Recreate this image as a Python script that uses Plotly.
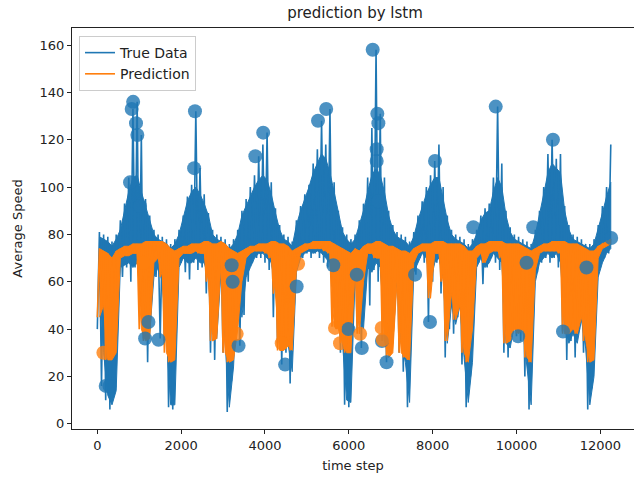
import plotly.graph_objects as go

# bin start positions (time step), 100 apart
bin_x = list(range(0, 12300, 100))
x_ticks = [0, 2000, 4000, 6000, 8000, 10000, 12000]
x_tick_labels = ["0", "2000", "4000", "6000", "8000", "10000", "12000"]
y_ticks = [0, 20, 40, 60, 80, 100, 120, 140, 160]

# True data: extremes per bin (spikes)
true_hi = [81, 80, 79, 77, 80, 86, 93, 104, 133, 136, 122, 95, 88, 82, 80, 79, 78, 76, 78, 82,
           88, 96, 101, 132, 108, 97, 89, 82, 80, 79, 78, 76, 78, 82, 90, 95, 100, 105, 113, 118,
           123, 102, 91, 84, 80, 79, 77, 86, 92, 97, 101, 110, 116, 128, 118, 133, 102, 90, 83, 80,
           78, 80, 86, 93, 104, 125, 158, 131, 104, 90, 84, 81, 80, 79, 77, 81, 88, 94, 100, 105,
           111, 118, 100, 88, 82, 80, 79, 78, 76, 78, 82, 88, 91, 93, 104, 134, 110, 90, 83, 80,
           79, 78, 77, 76, 82, 90, 100, 114, 120, 112, 114, 92, 84, 80, 79, 78, 76, 76, 78, 84,
           92, 100, 118]
true_lo = [40, 16, 10, 6, 12, 60, 62, 66, 60, 66, 50, 36, 26, 55, 62, 36, 35, 7, 6, 60,
           68, 64, 61, 68, 65, 66, 55, 30, 27, 58, 30, 5, 18, 55, 33, 46, 60, 68, 70, 70,
           68, 65, 45, 34, 25, 30, 17, 57, 68, 70, 72, 70, 72, 70, 68, 66, 58, 40, 30, 8,
           7, 55, 40, 32, 60, 50, 65, 60, 35, 26, 40, 55, 30, 22, 7, 58, 63, 70, 68, 43,
           60, 68, 55, 28, 40, 38, 45, 25, 7, 20, 62, 68, 59, 66, 70, 68, 65, 30, 28, 40,
           37, 35, 20, 6, 50, 64, 68, 70, 68, 70, 66, 39, 27, 35, 28, 40, 30, 6, 15, 55,
           66, 70, 72]
# True data: dense body per bin
true_band_hi = [79, 78, 77, 75, 78, 82, 90, 98, 104, 105, 98, 92, 86, 80, 78, 77, 76, 74, 76, 80,
                87, 94, 98, 100, 97, 93, 88, 80, 78, 77, 76, 74, 76, 80, 88, 92, 96, 100, 103, 105,
                103, 97, 89, 82, 78, 77, 75, 84, 90, 95, 100, 106, 110, 114, 112, 106, 98, 89, 81, 78,
                76, 78, 84, 90, 98, 105, 108, 105, 98, 88, 82, 79, 78, 77, 75, 79, 86, 92, 97, 101,
                104, 104, 95, 86, 80, 78, 77, 76, 74, 76, 80, 86, 89, 90, 98, 104, 100, 88, 81, 78,
                77, 76, 75, 74, 80, 88, 97, 106, 110, 108, 106, 90, 82, 78, 77, 76, 75, 74, 76, 82,
                89, 96, 102]
true_band_lo = [60, 30, 12, 8, 14, 66, 67, 68, 66, 68, 55, 40, 38, 62, 66, 60, 36, 8, 8, 66,
                70, 68, 68, 70, 68, 68, 62, 38, 36, 64, 34, 7, 24, 60, 45, 62, 66, 70, 72, 72,
                70, 68, 58, 36, 32, 34, 22, 64, 70, 72, 73, 72, 73, 72, 70, 68, 50, 44, 34, 10,
                9, 62, 44, 40, 66, 64, 68, 66, 40, 30, 34, 62, 34, 26, 9, 64, 68, 72, 70, 60,
                68, 70, 62, 34, 50, 42, 50, 28, 9, 26, 66, 70, 66, 68, 72, 70, 68, 34, 32, 42,
                40, 40, 24, 8, 60, 68, 70, 72, 70, 72, 68, 42, 34, 38, 34, 44, 32, 8, 20, 62,
                68, 72, 74]

# Prediction envelope per bin
pred_hi = [74, 73, 72, 70, 73, 74, 75, 75, 76, 76, 76, 77, 77, 77, 77, 77, 76, 74, 73, 74,
           75, 75, 76, 76, 76, 77, 77, 76, 76, 77, 76, 74, 73, 72, 73, 74, 75, 75, 76, 76,
           76, 77, 77, 76, 76, 75, 73, 74, 75, 76, 76, 77, 77, 77, 77, 77, 76, 75, 74, 73,
           72, 74, 73, 75, 76, 76, 77, 77, 76, 75, 75, 74, 73, 73, 72, 74, 75, 76, 76, 76,
           77, 77, 77, 76, 76, 76, 76, 75, 73, 73, 75, 76, 76, 77, 77, 77, 77, 76, 76, 76,
           76, 75, 74, 73, 74, 75, 76, 76, 77, 77, 77, 77, 76, 76, 76, 75, 74, 73, 73, 75,
           76, 77, 78]
pred_lo = [45, 50, 27, 27, 30, 70, 71, 71, 72, 72, 40, 35, 36, 68, 70, 62, 30, 26, 27, 70,
           72, 72, 72, 73, 72, 72, 60, 35, 36, 68, 30, 26, 27, 40, 60, 70, 72, 73, 73, 73,
           72, 70, 55, 31, 31, 33, 31, 65, 72, 73, 74, 74, 74, 74, 73, 72, 41, 40, 34, 30,
           30, 65, 38, 60, 72, 72, 70, 70, 35, 28, 30, 60, 30, 28, 27, 68, 72, 73, 73, 53,
           72, 72, 60, 35, 55, 44, 50, 30, 26, 40, 70, 72, 68, 72, 73, 73, 70, 34, 35, 40,
           38, 40, 28, 26, 65, 72, 73, 73, 73, 73, 72, 38, 38, 40, 38, 45, 35, 26, 27, 70,
           74, 75, 76]

# highlighted points (circles)
true_pts_x = [200, 290, 780, 820, 855, 923, 955, 1020, 1140, 1220, 1460, 2310, 2330, 3205, 3230,
              3370, 3770, 3957, 4480, 4756, 5265, 5460, 5630, 5990, 6190, 6310, 6570, 6665, 6665,
              6680, 6705, 6705, 6790, 6900, 7580, 7937, 8057, 8970, 9505, 10040, 10240, 10400,
              10870, 11110, 11670, 12260]
true_pts_y = [16, 16, 102, 133, 136, 127, 122, 92, 36, 43, 35.5, 108, 132, 67, 60,
              33, 113, 123, 25, 58, 128, 133, 67, 40, 63, 32, 158, 116, 111,
              131, 127, 94, 35, 26, 63, 43, 111, 83, 134, 37, 68, 83,
              120, 39, 66, 78.5]
pred_pts_x = [145, 1100, 3325, 4400, 4790, 5670, 5790, 6190, 6270, 6785, 6810]
pred_pts_y = [30, 68, 38, 34, 67.6, 40.5, 34, 70, 38, 40.5, 35.5]

END_X = 12280
BLUE = "#1f77b4"
ORANGE = "#ff7f0e"
FONT = "DejaVu Sans"


def zigzag(xs, lo, hi):
    px, py = [], []
    for x, a, b in zip(xs, lo, hi):
        px += [x, min(x + 50, END_X)]
        py += [a, b]
    return px, py


def band(xs, lo, hi):
    xe = [min(x + 50, END_X) for x in xs]
    return xe + xe[::-1], list(hi) + list(lo)[::-1]


fig = go.Figure()
bx, by = band(bin_x, true_band_lo, true_band_hi)
fig.add_trace(go.Scatter(x=bx, y=by, mode="lines", fill="toself", fillcolor=BLUE,
                         line=dict(color=BLUE, width=1), showlegend=False, hoverinfo="skip"))
tx, ty = zigzag(bin_x, true_lo, true_hi)
fig.add_trace(go.Scatter(x=tx, y=ty, mode="lines", name="True Data",
                         line=dict(color=BLUE, width=1.6, simplify=False)))
ox, oy = band(bin_x, pred_lo, pred_hi)
fig.add_trace(go.Scatter(x=ox, y=oy, mode="lines", fill="toself", fillcolor=ORANGE,
                         line=dict(color=ORANGE, width=1), showlegend=False, hoverinfo="skip"))
px_, py_ = zigzag(bin_x, pred_lo, pred_hi)
fig.add_trace(go.Scatter(x=px_, y=py_, mode="lines", name="Prediction",
                         line=dict(color=ORANGE, width=1.6, simplify=False)))
fig.add_trace(go.Scatter(x=true_pts_x, y=true_pts_y, mode="markers", showlegend=False,
                         marker=dict(color=BLUE, size=14, opacity=0.8, line=dict(width=0))))
fig.add_trace(go.Scatter(x=pred_pts_x, y=pred_pts_y, mode="markers", showlegend=False,
                         marker=dict(color=ORANGE, size=14, opacity=0.8, line=dict(width=0))))

axis_common = dict(showgrid=False, zeroline=False, showline=True, linecolor="#222",
                   linewidth=1, ticks="outside", ticklen=4, tickcolor="#222",
                   tickfont=dict(family=FONT, size=13, color="#222"))

fig.update_layout(
    width=634, height=478,
    margin=dict(l=72, r=0, t=28, b=49),
    paper_bgcolor="white", plot_bgcolor="white",
    title=dict(text="prediction by lstm", x=(72 + 638) / 2 / 634, xanchor="center",
               y=1 - 13 / 478, yanchor="middle",
               font=dict(family=FONT, size=15, color="#222")),
    xaxis=dict(range=[-604, 12804], tickvals=x_ticks, ticktext=x_tick_labels,
               mirror=True,
               title=dict(text="time step", font=dict(family=FONT, size=13, color="#222"),
                          standoff=9),
               **axis_common),
    yaxis=dict(range=[-2.2, 167.2], tickvals=y_ticks,
               title=dict(text="Average Speed", font=dict(family=FONT, size=13, color="#222"),
                          standoff=14),
               **axis_common),
    legend=dict(x=0.0125, y=0.98, xanchor="left", yanchor="top",
                bgcolor="rgba(255,255,255,0.8)", bordercolor="#ccc", borderwidth=1,
                font=dict(family=FONT, size=14, color="#222"),
                itemwidth=30),
    showlegend=True,
)

fig.write_html("out.html")
